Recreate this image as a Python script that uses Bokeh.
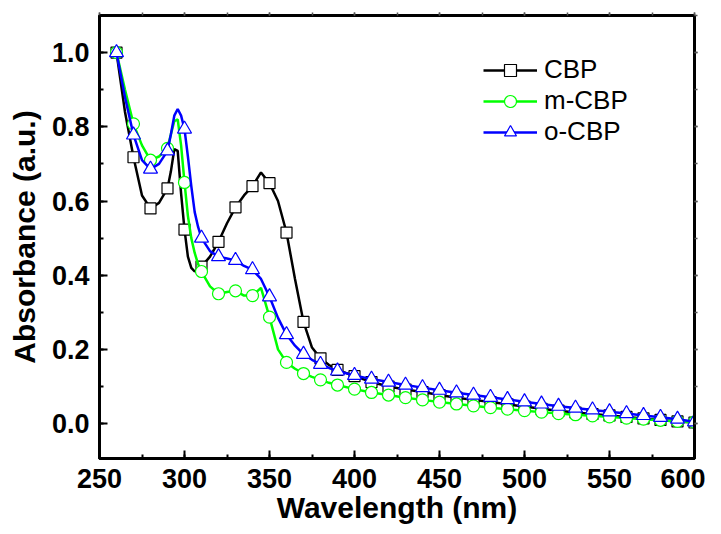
from bokeh.plotting import figure
from bokeh.models import (Range1d, Legend, LegendItem, FixedTicker, NumeralTickFormatter,
                          LinearAxis, CustomJSTickFormatter)
from bokeh.embed import file_html
from bokeh.resources import INLINE

wavelength = [260, 265, 270, 275, 280, 285, 290, 292, 294, 296, 298, 300, 302, 304, 306, 308,
              310, 315, 320, 325, 330, 335, 340, 345, 350, 355, 360, 365, 370, 375, 380, 385,
              390, 400, 410, 420, 430, 440, 450, 460, 470, 480, 490, 500, 510, 520, 530, 540,
              550, 560, 570, 580, 590, 600]

cbp = [1.0, 0.84, 0.718, 0.615, 0.58, 0.595, 0.634, 0.68, 0.74, 0.735, 0.62, 0.523, 0.45, 0.42,
       0.41, 0.415, 0.423, 0.45, 0.49, 0.54, 0.583, 0.615, 0.64, 0.677, 0.648, 0.60, 0.515, 0.39,
       0.274, 0.205, 0.176, 0.158, 0.145, 0.128, 0.112, 0.10, 0.092, 0.085, 0.077, 0.070, 0.064,
       0.058, 0.052, 0.046, 0.040, 0.035, 0.030, 0.026, 0.022, 0.018, 0.014, 0.010, 0.006, 0.003]

m_cbp = [1.0, 0.90, 0.808, 0.75, 0.71, 0.72, 0.742, 0.78, 0.815, 0.82, 0.75, 0.65, 0.56, 0.50,
         0.46, 0.43, 0.41, 0.37, 0.35, 0.355, 0.358, 0.345, 0.345, 0.366, 0.287, 0.20, 0.165,
         0.148, 0.135, 0.126, 0.118, 0.11, 0.104, 0.093, 0.084, 0.077, 0.070, 0.064, 0.058,
         0.053, 0.048, 0.043, 0.039, 0.035, 0.031, 0.027, 0.024, 0.021, 0.018, 0.015, 0.012,
         0.009, 0.006, 0.004]

o_cbp = [1.0, 0.88, 0.778, 0.71, 0.686, 0.70, 0.735, 0.78, 0.83, 0.848, 0.83, 0.794, 0.72, 0.64,
         0.57, 0.53, 0.50, 0.465, 0.45, 0.445, 0.44, 0.425, 0.415, 0.39, 0.342, 0.285, 0.24,
         0.21, 0.187, 0.172, 0.16, 0.15, 0.142, 0.13, 0.12, 0.112, 0.104, 0.097, 0.09, 0.083,
         0.077, 0.071, 0.065, 0.059, 0.053, 0.047, 0.042, 0.037, 0.032, 0.027, 0.022, 0.017,
         0.012, 0.005]

labels = ["CBP", "m-CBP", "o-CBP"]
x_ticks = [250, 300, 350, 400, 450, 500, 550, 600]
y_ticks = [0.0, 0.2, 0.4, 0.6, 0.8, 1.0]

FONT = "Liberation Sans"

p = figure(width=705, height=534, output_backend="svg", toolbar_location=None,
           x_range=Range1d(250, 600), y_range=Range1d(-0.094, 1.1),
           min_border_left=99, min_border_right=11, min_border_top=15, min_border_bottom=76)
p.grid.visible = False
p.outline_line_color = "black"
p.outline_line_width = 3
p.background_fill_color = "white"
p.border_fill_color = "white"

def mk(vals):
    xs = [w for w in wavelength if w % 10 == 0]
    ys = [v for w, v in zip(wavelength, vals) if w % 10 == 0]
    return xs, ys

styles = [("black", "square", 11), ("#00ff00", "circle", 12), ("#0000ff", "triangle", 14)]
items = []
for lab, vals, (col, mark, sz) in zip(labels, [cbp, m_cbp, o_cbp], styles):
    r1 = p.line(wavelength, vals, line_color=col, line_width=2.5)
    mx, my = mk(vals)
    r2 = p.scatter(mx, my, marker=mark, size=sz, line_color=col, fill_color="white", line_width=1.2)
    items.append(LegendItem(label=lab, renderers=[r1, r2]))

legend = Legend(items=items, location=(384, 311), border_line_color=None,
                background_fill_alpha=0, padding=0, spacing=0, glyph_width=54,
                glyph_height=30, label_height=30, label_standoff=7,
                label_text_font=FONT, label_text_font_size="26px", label_text_color="black")
p.add_layout(legend)

for ax in [p.xaxis[0], p.yaxis[0]]:
    ax.axis_line_width = 3
    ax.major_tick_line_width = 2
    ax.minor_tick_line_width = 2
    ax.major_tick_in = 8
    ax.major_tick_out = 0
    ax.minor_tick_in = 4
    ax.minor_tick_out = 0
    ax.major_label_text_font = FONT
    ax.major_label_text_font_style = "bold"
    ax.major_label_text_font_size = "27px"
    ax.major_label_text_color = "black"
    ax.axis_label_text_font = FONT
    ax.axis_label_text_font_style = "bold"
    ax.axis_label_text_font_size = "30px"
    ax.axis_label_text_color = "black"

x_minor = list(range(250, 601, 25))
y_minor = [i / 10 for i in range(0, 12)]
p.xaxis[0].ticker = FixedTicker(ticks=x_ticks, minor_ticks=x_minor)
p.yaxis[0].ticker = FixedTicker(ticks=y_ticks, minor_ticks=y_minor)
p.yaxis[0].formatter = NumeralTickFormatter(format="0.0")
p.xaxis[0].axis_label = "Wavelength (nm)"
p.yaxis[0].axis_label = "Absorbance (a.u.)"
p.xaxis[0].major_label_standoff = 10
p.xaxis[0].axis_label_standoff = 0
p.yaxis[0].major_label_standoff = 10
p.yaxis[0].axis_label_standoff = 8

# mirrored frame axes: ticks only, no label text
for loc, tk in [("right", FixedTicker(ticks=y_ticks, minor_ticks=y_minor)),
                ("above", FixedTicker(ticks=x_ticks, minor_ticks=x_minor))]:
    ax = LinearAxis(ticker=tk, axis_line_width=3, major_tick_in=0, major_tick_out=3,
                    minor_tick_in=0, minor_tick_out=3, major_tick_line_width=1.5,
                    minor_tick_line_width=1.5, major_label_standoff=0,
                    major_label_text_font_size="8px",
                    formatter=CustomJSTickFormatter(code="return ''"),
                    major_tick_line_color="#555555", minor_tick_line_color="#555555")
    p.add_layout(ax, loc)

open("out.html", "w").write(file_html(p, INLINE))
